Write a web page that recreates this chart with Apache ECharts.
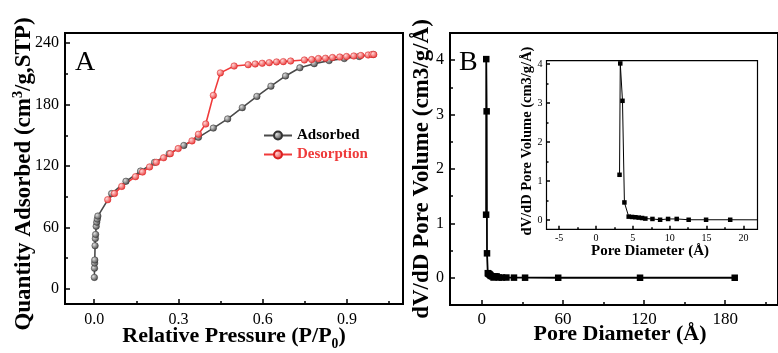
<!DOCTYPE html>
<html>
<head>
<meta charset="UTF-8">
<title>Isotherm and pore size distribution</title>
<script src="https://cdn.jsdelivr.net/npm/echarts@6/dist/echarts.min.js"></script>
<style>
  html, body { margin: 0; padding: 0; background: #fff; }
  #chart { width: 778px; height: 353px; }
</style>
</head>
<body>
<div id="chart"></div>
<script>
// panel A: N2 isotherm
const adsX = [0.0005, 0.001, 0.0015, 0.002, 0.003, 0.004, 0.005, 0.007, 0.009, 0.011, 0.013,
  0.062, 0.113, 0.165, 0.215, 0.267, 0.319, 0.371, 0.424, 0.475, 0.527, 0.579, 0.629,
  0.681, 0.732, 0.783, 0.836, 0.89, 0.943, 0.993];
const adsY = [11, 20, 25, 28, 42, 49, 53, 61, 65, 68, 71,
  93, 105, 115, 123.5, 132, 140, 148, 157, 166, 177, 188, 198,
  208, 216, 220, 223, 225, 227, 229];
const desX = [0.048, 0.072, 0.098, 0.147, 0.172, 0.197, 0.221, 0.247, 0.271, 0.299, 0.348,
  0.371, 0.397, 0.424, 0.449, 0.498, 0.548, 0.573, 0.598, 0.623, 0.649, 0.673, 0.699,
  0.748, 0.774, 0.798, 0.823, 0.848, 0.874, 0.898, 0.924, 0.949, 0.975, 0.989, 0.995];
const desY = [87, 93, 100, 109.5, 114, 119, 123.5, 128, 132, 137, 144.5,
  151, 161, 189, 211, 217.7, 219, 219.7, 220.4, 221, 221.7, 222, 222.6,
  223.6, 224, 225, 225.3, 226, 226.5, 227, 227.5, 228, 228.5, 229, 229];

// panel B: pore size distribution (main + inset use the same points)
const poreX = [3.2, 3.3, 3.6, 3.86, 4.44, 4.9, 5.35, 5.8, 6.26, 6.7, 7.66, 8.7, 9.78,
  10.95, 12.57, 14.93, 18.2, 23.8, 32, 56.5, 117, 187];
const poreY = [1.16, 4.02, 3.06, 0.45, 0.085, 0.077, 0.07, 0.06, 0.05, 0.035, 0.026, 0.005, 0.026,
  0.026, 0.005, 0.005, 0.005, 0.003, 0.002, 0.001, 0.001, 0.001];

// tick labels
const pressureTicks = [0, 0.3, 0.6, 0.9];
const quantityTicks = [0, 60, 120, 180, 240];
const diameterTicks = [0, 60, 120, 180];
const volumeTicks = [0, 1, 2, 3, 4];
const insetDiameterTicks = [-5, 0, 5, 10, 15, 20];
const insetVolumeTicks = [0, 1, 2, 3, 4];

const serif = 'Liberation Serif';
const zip = (xs, ys) => xs.map((x, i) => [x, ys[i]]);

// minor ticks sit halfway between the labelled ones (plus one past the end)
function minorOf(ticks) {
  const step = ticks[1] - ticks[0];
  const out = ticks.map(t => t + step / 2);
  out.unshift(ticks[0] - step / 2);
  return out;
}

function nameRich(size) {
  return {
    t: { fontFamily: serif, fontWeight: 'bold', fontSize: size, fill: '#000', color: '#000' },
    sup: { fontFamily: serif, fontWeight: 'bold', fontSize: size * 0.62, verticalAlign: 'top', lineHeight: size * 1.1, fill: '#000', color: '#000' },
    sub: { fontFamily: serif, fontWeight: 'bold', fontSize: size * 0.62, verticalAlign: 'bottom', lineHeight: size * 1.35, fill: '#000', color: '#000' }
  };
}

function majorAxis(grid, pos, min, max, ticks, fmt, labelSize, margin, tickLen, name, nameSize, nameGap, namePad) {
  const ax = {
    type: 'value', gridIndex: grid, position: pos, min: min, max: max,
    splitLine: { show: false },
    axisLine: { show: false, onZero: false },
    axisTick: { inside: true, length: tickLen, customValues: ticks, lineStyle: { color: '#000', width: 1.5 } },
    axisLabel: { customValues: ticks, formatter: fmt, color: '#000', fontFamily: serif, fontSize: labelSize, margin: margin }
  };
  if (name) {
    ax.name = name;
    ax.nameLocation = 'middle';
    ax.nameGap = nameGap;
    ax.nameMoveOverlap = false;
    ax.nameTextStyle = { color: '#000', fontFamily: serif, fontWeight: 'bold', fontSize: nameSize,
      padding: namePad || 0, rich: nameRich(nameSize) };
  }
  return ax;
}

function minorAxis(grid, pos, min, max, ticks, tickLen) {
  return {
    type: 'value', gridIndex: grid, position: pos, min: min, max: max,
    splitLine: { show: false },
    axisLine: { show: false, onZero: false },
    axisLabel: { show: false },
    axisTick: { inside: true, length: tickLen, customValues: minorOf(ticks), lineStyle: { color: '#000', width: 1.5 } }
  };
}

// horizontal axis titles as plain text elements
function title(text, x, y, size) {
  return {
    type: 'text', z: 10,
    style: { text: text, x: x, y: y, align: 'center', verticalAlign: 'middle', rich: nameRich(size),
      fontFamily: serif, fontWeight: 'bold', fontSize: size, fill: '#000' }
  };
}

function ball(light, dark) {
  return {
    type: 'radial', x: 0.35, y: 0.35, r: 0.75,
    colorStops: [{ offset: 0, color: light }, { offset: 1, color: dark }]
  };
}

const chart = echarts.init(document.getElementById('chart'));
chart.setOption({
  animation: false,
  backgroundColor: '#fff',
  textStyle: { fontFamily: serif },
  grid: [
    { left: 65, top: 33, width: 338, height: 271, show: true, borderColor: '#000', borderWidth: 2 },
    { left: 450, top: 33, width: 334, height: 272, show: true, borderColor: '#000', borderWidth: 2 },
    { left: 546.5, top: 60.7, width: 211, height: 168.6, show: true, borderColor: '#000', borderWidth: 1.2, backgroundColor: '#fff' }
  ],
  xAxis: [
    majorAxis(0, 'bottom', -0.104, 1.099, pressureTicks, v => v.toFixed(1), 16, 8, 5),
    minorAxis(0, 'bottom', -0.104, 1.099, pressureTicks, 3),
    majorAxis(1, 'bottom', -23.5, 219, diameterTicks, v => v, 17, 6, 5),
    minorAxis(1, 'bottom', -23.5, 219, diameterTicks, 3),
    majorAxis(2, 'bottom', -6.7, 21.9, insetDiameterTicks, v => v, 10, 4, 3.5),
    minorAxis(2, 'bottom', -6.7, 21.9, insetDiameterTicks, 2)
  ],
  yAxis: [
    majorAxis(0, 'left', -15, 250, quantityTicks, v => v, 16, 6, 5,
      '{t|Quantity Adsorbed (cm}{sup|3}{t|/g,STP)}', 23, 28, [0, 11, 0, 0]),
    minorAxis(0, 'left', -15, 250, quantityTicks, 3),
    majorAxis(1, 'left', -0.5, 4.5, volumeTicks, v => v, 16, 6, 5,
      '{t|dV/dD Pore Volume (cm3/g/Å)}', 23, 16.5),
    minorAxis(1, 'left', -0.5, 4.5, volumeTicks, 3),
    majorAxis(2, 'left', -0.24, 4.09, insetVolumeTicks, v => v, 10, 4, 3.5,
      '{t|dV/dD Pore Volume (cm3/g/Å)}', 14.5, 11.5, [0, 0, 0, 8]),
    minorAxis(2, 'left', -0.24, 4.09, insetVolumeTicks, 2)
  ],
  legend: {
    orient: 'vertical', left: 258, top: 123,
    itemWidth: 28, itemHeight: 10, itemGap: 4,
    textStyle: { fontFamily: serif, fontWeight: 'bold', fontSize: 15 },
    data: [
      { name: 'Adsorbed', textStyle: { color: '#000' } },
      { name: 'Desorption', textStyle: { color: '#ef3b3b' } }
    ]
  },
  graphic: [
    { type: 'text', style: { text: 'A', x: 75, y: 63, fontFamily: serif, fontSize: 28, fill: '#000', verticalAlign: 'middle' } },
    { type: 'text', style: { text: 'B', x: 459, y: 63, fontFamily: serif, fontSize: 28, fill: '#000', verticalAlign: 'middle' } },
    title('{t|Relative Pressure (P/P}{sub|0}{t|)}', 234, 336.5, 22),
    title('{t|Pore Diameter (Å)}', 620, 334, 22),
    title('{t|Pore Diameter (Å)}', 650, 251, 15)
  ],
  series: [
    {
      name: 'Adsorbed', type: 'line', xAxisIndex: 0, yAxisIndex: 0,
      data: zip(adsX, adsY), symbol: 'circle', symbolSize: 6.5,
      lineStyle: { color: '#4a4a4a', width: 1.6 },
      itemStyle: { color: ball('#e0e0e0', '#353535'), borderColor: '#333', borderWidth: 0.5 }
    },
    {
      name: 'Desorption', type: 'line', xAxisIndex: 0, yAxisIndex: 0,
      data: zip(desX, desY), symbol: 'circle', symbolSize: 6.5,
      lineStyle: { color: '#f03a3a', width: 1.6 },
      itemStyle: { color: ball('#ffd6d6', '#e82828'), borderColor: '#d82020', borderWidth: 0.5 }
    },
    {
      type: 'line', xAxisIndex: 2, yAxisIndex: 2,
      data: zip(poreX, poreY), symbol: 'rect', symbolSize: 6.5,
      lineStyle: { color: '#000', width: 1.8 }, itemStyle: { color: '#000' }
    },
    {
      type: 'line', xAxisIndex: 4, yAxisIndex: 4,
      data: zip(poreX, poreY), symbol: 'rect', symbolSize: 4.5,
      lineStyle: { color: '#000', width: 1 }, itemStyle: { color: '#000' }, z: 5
    }
  ]
});
</script>
</body>
</html>
